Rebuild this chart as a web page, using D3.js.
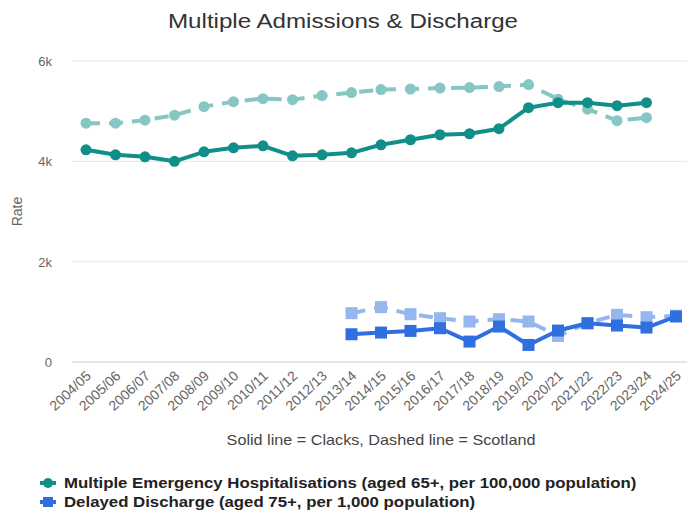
<!DOCTYPE html>
<html>
<head>
<meta charset="utf-8">
<script src="https://cdn.jsdelivr.net/npm/d3@7"></script>
<style>
  body { margin: 0; background: #fff; }
  svg { font-family: "Liberation Sans", Arial, sans-serif; }
</style>
</head>
<body>
<svg id="chart" width="692" height="513"></svg>
<script>
const years = ["2004/05", "2005/06", "2006/07", "2007/08", "2008/09", "2009/10", "2010/11",
  "2011/12", "2012/13", "2013/14", "2014/15", "2015/16", "2016/17", "2017/18", "2018/19",
  "2019/20", "2020/21", "2021/22", "2022/23", "2023/24", "2024/25"];

// Multiple emergency hospitalisations (65+, per 100,000)
const mehClacks = [4230, 4130, 4090, 4000, 4190, 4270, 4310, 4110, 4130, 4170, 4330,
  4430, 4530, 4550, 4650, 5070, 5170, 5170, 5110, 5170, null];
const mehScotland = [4760, 4760, 4820, 4920, 5090, 5190, 5250, 5230, 5310, 5370, 5430,
  5440, 5460, 5470, 5490, 5530, 5240, 5040, 4810, 4870, null];

// Delayed discharge (75+, per 1,000)
const ddClacks = [null, null, null, null, null, null, null, null, null, 553, 587,
  620, 673, 407, 707, 340, 627, 773, 727, 687, 907];
const ddScotland = [null, null, null, null, null, null, null, null, null, 973, 1093,
  953, 873, 807, 853, 807, 520, 773, 940, 893, 920];

const yTicks = [0, 2000, 4000, 6000];

const teal = "#0f8f88";
const blue = "#2f6fdf";

const margins = { left: 72, right: 5 };
const width = 692;

const svg = d3.select("#chart");

// Plot title (source picture is slightly stretched horizontally)
svg.append("text")
  .attr("transform", "translate(343, 28) scale(1.15, 1)")
  .attr("text-anchor", "middle")
  .style("font-size", "21px")
  .style("fill", "#333")
  .text("Multiple Admissions & Discharge");

const x = d3.scalePoint()
  .domain(years)
  .range([86, 676]);

const y = d3.scaleLinear()
  .domain([0, 6000])
  .range([362, 61]);

// Grid lines
svg.append("g")
  .selectAll("line")
  .data(yTicks)
  .join("line")
  .attr("x1", margins.left)
  .attr("x2", width - margins.right)
  .attr("y1", d => y(d))
  .attr("y2", d => y(d))
  .style("stroke", d => d === 0 ? "#ccc" : "#e6e6e6")
  .style("stroke-width", 1);

// y axis labels
svg.append("g")
  .selectAll("text")
  .data(yTicks)
  .join("text")
  .attr("x", 52)
  .attr("y", d => y(d) + 5)
  .attr("text-anchor", "end")
  .style("font-size", "13px")
  .style("fill", "#666")
  .text(d => d === 0 ? "0" : d3.format("~s")(d));

svg.append("text")
  .attr("transform", `translate(22, ${y(3000)}) rotate(-90)`)
  .attr("text-anchor", "middle")
  .style("font-size", "14px")
  .style("fill", "#666")
  .text("Rate");

// x axis labels
svg.append("g")
  .selectAll("text")
  .data(years)
  .join("text")
  .attr("transform", d => `translate(${x(d) + 6}, 377) rotate(-43)`)
  .attr("text-anchor", "end")
  .style("font-size", "14px")
  .style("fill", "#666")
  .text(d => d);

svg.append("text")
  .attr("transform", "translate(381, 445) scale(1.08, 1)")
  .attr("text-anchor", "middle")
  .style("font-size", "15px")
  .style("fill", "#444")
  .text("Solid line = Clacks, Dashed line = Scotland");

// Series
const series = [
  { values: mehScotland, color: teal, dashed: true, shape: "circle" },
  { values: ddScotland, color: blue, dashed: true, shape: "square" },
  { values: mehClacks, color: teal, dashed: false, shape: "circle" },
  { values: ddClacks, color: blue, dashed: false, shape: "square" }
];

const line = d3.line()
  .defined(d => d.v != null)
  .x(d => x(d.year))
  .y(d => y(d.v));

series.forEach(s => {
  const pts = years.map((year, i) => ({ year, v: s.values[i] }));
  const g = svg.append("g").style("opacity", s.dashed ? 0.5 : 1);

  g.append("path")
    .datum(pts)
    .attr("d", line)
    .style("fill", "none")
    .style("stroke", s.color)
    .style("stroke-width", 4)
    .style("stroke-dasharray", s.dashed ? "14 9" : null)
    .style("stroke-linejoin", "round");

  const valid = pts.filter(d => d.v != null);
  if (s.shape === "circle") {
    g.selectAll("circle")
      .data(valid)
      .join("circle")
      .attr("cx", d => x(d.year))
      .attr("cy", d => y(d.v))
      .attr("r", 5.5)
      .style("fill", s.color);
  } else {
    g.selectAll("rect")
      .data(valid)
      .join("rect")
      .attr("x", d => x(d.year) - 6)
      .attr("y", d => y(d.v) - 6)
      .attr("width", 12)
      .attr("height", 12)
      .style("fill", s.color);
  }
});

// Legend
const legendItems = [
  { label: "Multiple Emergency Hospitalisations (aged 65+, per 100,000 population)", color: teal, shape: "circle" },
  { label: "Delayed Discharge (aged 75+, per 1,000 population)", color: blue, shape: "square" }
];

const legend = svg.append("g")
  .selectAll("g")
  .data(legendItems)
  .join("g")
  .attr("transform", (d, i) => `translate(40, ${483 + i * 19})`);

legend.append("line")
  .attr("x1", 0)
  .attr("x2", 16)
  .style("stroke", d => d.color)
  .style("stroke-width", 4);

legend.each(function (d) {
  const g = d3.select(this);
  if (d.shape === "circle") {
    g.append("circle").attr("cx", 8).attr("r", 5).style("fill", d.color);
  } else {
    g.append("rect").attr("x", 3).attr("y", -5).attr("width", 10).attr("height", 10).style("fill", d.color);
  }
});

legend.append("text")
  .attr("transform", "translate(24, 5) scale(1.2, 1)")
  .style("font-size", "14px")
  .style("font-weight", "bold")
  .style("fill", "#222")
  .text(d => d.label);
</script>
</body>
</html>
